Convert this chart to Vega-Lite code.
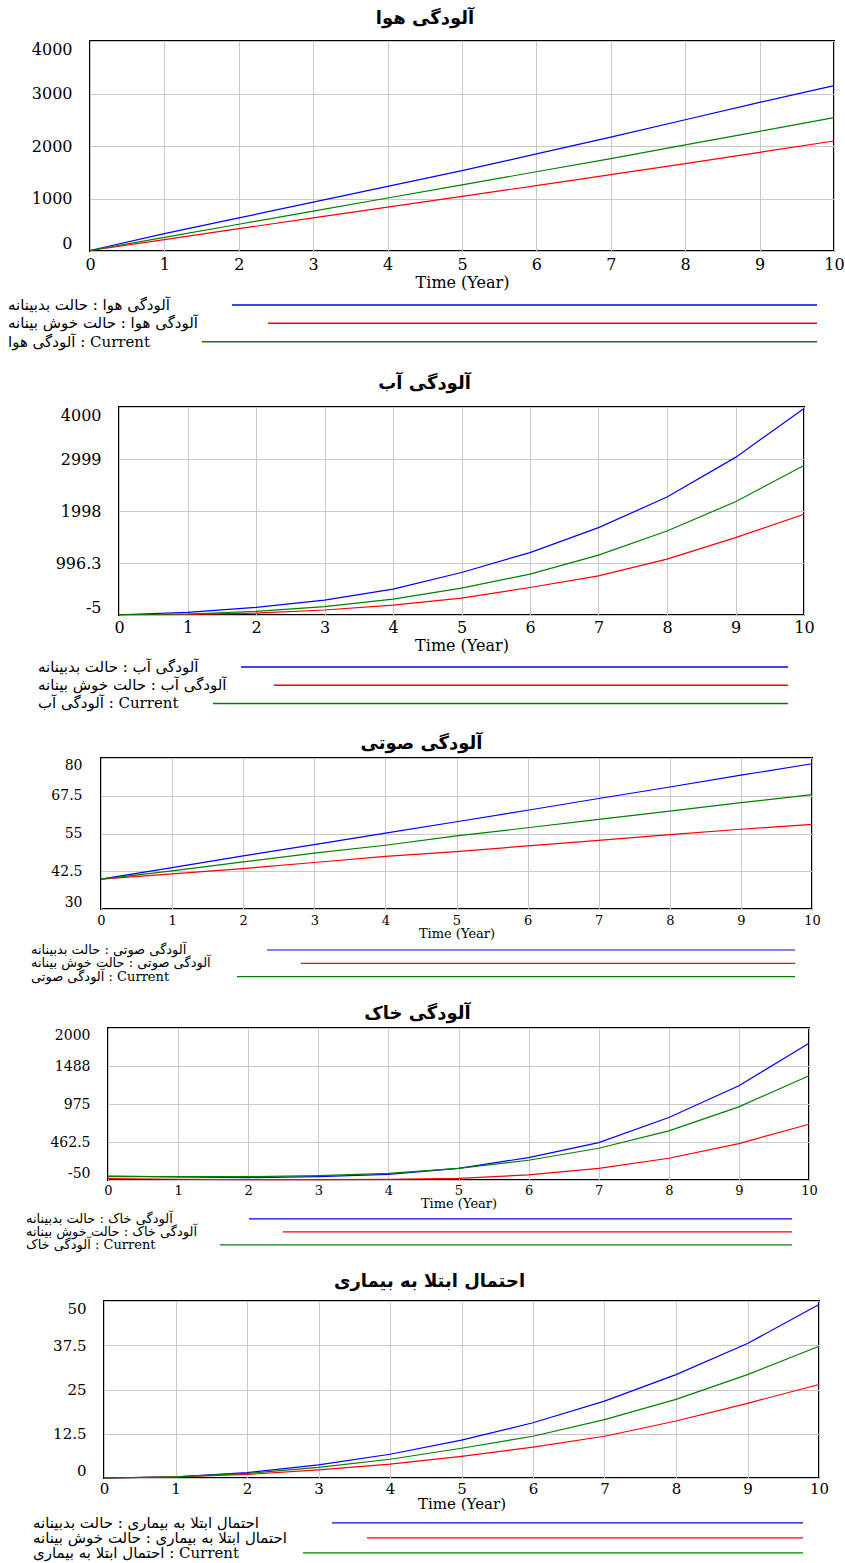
{
  "$schema": "https://vega.github.io/schema/vega-lite/v6.json",
  "padding": {"left": 0, "top": 9, "right": 0, "bottom": 0},
  "spacing": 0,
  "config": {
    "view": {"stroke": "black", "strokeWidth": 2},
    "axis": {"grid": true, "gridColor": "#c8c8c8", "gridWidth": 1, "domain": false, "ticks": false, "tickSize": 0, "labelFont": "DejaVu Serif", "titleFont": "DejaVu Serif", "labelColor": "black", "titleColor": "black", "titleFontWeight": "normal", "labelOverlap": false},
    "axisX": {"labelFlush": false},
    "axisY": {"labelFlush": true, "minExtent": 80, "maxExtent": 80},
    "title": {"color": "black", "font": "DejaVu Sans", "fontWeight": "bold", "anchor": "middle", "frame": "group", "fontSize": 18},
    "text": {"font": "DejaVu Serif, DejaVu Sans", "color": "black"}
  },
  "resolve": {"scale": {"x": "independent", "y": "independent", "color": "independent"}},
  "datasets": {
    "air": [
      {"t":0,"s":"bad","v":10},{"t":1,"s":"bad","v":330},{"t":2,"s":"bad","v":630},{"t":3,"s":"bad","v":930},{"t":4,"s":"bad","v":1230},{"t":5,"s":"bad","v":1530},{"t":6,"s":"bad","v":1850},{"t":7,"s":"bad","v":2170},{"t":8,"s":"bad","v":2500},{"t":9,"s":"bad","v":2830},{"t":10,"s":"bad","v":3150},
      {"t":0,"s":"good","v":10},{"t":1,"s":"good","v":215},{"t":2,"s":"good","v":425},{"t":3,"s":"good","v":630},{"t":4,"s":"good","v":835},{"t":5,"s":"good","v":1040},{"t":6,"s":"good","v":1245},{"t":7,"s":"good","v":1455},{"t":8,"s":"good","v":1665},{"t":9,"s":"good","v":1880},{"t":10,"s":"good","v":2095},
      {"t":0,"s":"current","v":10},{"t":1,"s":"current","v":260},{"t":2,"s":"current","v":510},{"t":3,"s":"current","v":760},{"t":4,"s":"current","v":1010},{"t":5,"s":"current","v":1260},{"t":6,"s":"current","v":1510},{"t":7,"s":"current","v":1760},{"t":8,"s":"current","v":2020},{"t":9,"s":"current","v":2280},{"t":10,"s":"current","v":2540}
    ],
    "water": [
      {"t":0,"s":"bad","v":0},{"t":1,"s":"bad","v":45},{"t":2,"s":"bad","v":141},{"t":3,"s":"bad","v":283},{"t":4,"s":"bad","v":494},{"t":5,"s":"bad","v":813},{"t":6,"s":"bad","v":1197},{"t":7,"s":"bad","v":1677},{"t":8,"s":"bad","v":2266},{"t":9,"s":"bad","v":3030},{"t":10,"s":"bad","v":3970},
      {"t":0,"s":"good","v":0},{"t":1,"s":"good","v":6},{"t":2,"s":"good","v":33},{"t":3,"s":"good","v":91},{"t":4,"s":"good","v":187},{"t":5,"s":"good","v":321},{"t":6,"s":"good","v":525},{"t":7,"s":"good","v":750},{"t":8,"s":"good","v":1070},{"t":9,"s":"good","v":1485},{"t":10,"s":"good","v":1934},
      {"t":0,"s":"current","v":0},{"t":1,"s":"current","v":14},{"t":2,"s":"current","v":64},{"t":3,"s":"current","v":155},{"t":4,"s":"current","v":302},{"t":5,"s":"current","v":513},{"t":6,"s":"current","v":782},{"t":7,"s":"current","v":1147},{"t":8,"s":"current","v":1613},{"t":9,"s":"current","v":2176},{"t":10,"s":"current","v":2875}
    ],
    "noise": [
      {"t":0,"s":"bad","v":39.9},{"t":1,"s":"bad","v":43.7},{"t":2,"s":"bad","v":47.6},{"t":3,"s":"bad","v":51.3},{"t":4,"s":"bad","v":55.1},{"t":5,"s":"bad","v":58.9},{"t":6,"s":"bad","v":62.7},{"t":7,"s":"bad","v":66.6},{"t":8,"s":"bad","v":70.4},{"t":9,"s":"bad","v":74.3},{"t":10,"s":"bad","v":78.1},
      {"t":0,"s":"good","v":39.9},{"t":1,"s":"good","v":41.6},{"t":2,"s":"good","v":43.4},{"t":3,"s":"good","v":45.4},{"t":4,"s":"good","v":47.4},{"t":5,"s":"good","v":49.0},{"t":6,"s":"good","v":50.9},{"t":7,"s":"good","v":52.7},{"t":8,"s":"good","v":54.6},{"t":9,"s":"good","v":56.4},{"t":10,"s":"good","v":58.0},
      {"t":0,"s":"current","v":39.9},{"t":1,"s":"current","v":42.6},{"t":2,"s":"current","v":45.6},{"t":3,"s":"current","v":48.5},{"t":4,"s":"current","v":51.1},{"t":5,"s":"current","v":54.2},{"t":6,"s":"current","v":56.9},{"t":7,"s":"current","v":59.7},{"t":8,"s":"current","v":62.4},{"t":9,"s":"current","v":65.2},{"t":10,"s":"current","v":67.9}
    ],
    "soil": [
      {"t":0,"s":"bad","v":4},{"t":1,"s":"bad","v":-9},{"t":2,"s":"bad","v":-18},{"t":3,"s":"bad","v":-5},{"t":4,"s":"bad","v":27},{"t":5,"s":"bad","v":108},{"t":6,"s":"bad","v":252},{"t":7,"s":"bad","v":455},{"t":8,"s":"bad","v":793},{"t":9,"s":"bad","v":1221},{"t":10,"s":"bad","v":1793},
      {"t":0,"s":"good","v":-32},{"t":1,"s":"good","v":-40},{"t":2,"s":"good","v":-45},{"t":3,"s":"good","v":-45},{"t":4,"s":"good","v":-41},{"t":5,"s":"good","v":-27},{"t":6,"s":"good","v":18},{"t":7,"s":"good","v":108},{"t":8,"s":"good","v":243},{"t":9,"s":"good","v":441},{"t":10,"s":"good","v":702},
      {"t":0,"s":"current","v":-5},{"t":1,"s":"current","v":-5},{"t":2,"s":"current","v":-5},{"t":3,"s":"current","v":9},{"t":4,"s":"current","v":40},{"t":5,"s":"current","v":108},{"t":6,"s":"current","v":216},{"t":7,"s":"current","v":378},{"t":8,"s":"current","v":612},{"t":9,"s":"current","v":937},{"t":10,"s":"current","v":1356}
    ],
    "disease": [
      {"t":0,"s":"bad","v":0},{"t":1,"s":"bad","v":0.3},{"t":2,"s":"bad","v":1.5},{"t":3,"s":"bad","v":3.7},{"t":4,"s":"bad","v":6.7},{"t":5,"s":"bad","v":10.7},{"t":6,"s":"bad","v":15.6},{"t":7,"s":"bad","v":21.7},{"t":8,"s":"bad","v":29.2},{"t":9,"s":"bad","v":38.0},{"t":10,"s":"bad","v":49.0},
      {"t":0,"s":"good","v":0},{"t":1,"s":"good","v":0.3},{"t":2,"s":"good","v":1.0},{"t":3,"s":"good","v":2.3},{"t":4,"s":"good","v":3.9},{"t":5,"s":"good","v":6.1},{"t":6,"s":"good","v":8.7},{"t":7,"s":"good","v":11.8},{"t":8,"s":"good","v":16.1},{"t":9,"s":"good","v":21.1},{"t":10,"s":"good","v":26.4},
      {"t":0,"s":"current","v":0},{"t":1,"s":"current","v":0.3},{"t":2,"s":"current","v":1.3},{"t":3,"s":"current","v":3.0},{"t":4,"s":"current","v":5.3},{"t":5,"s":"current","v":8.4},{"t":6,"s":"current","v":11.8},{"t":7,"s":"current","v":16.5},{"t":8,"s":"current","v":22.2},{"t":9,"s":"current","v":29.2},{"t":10,"s":"current","v":37.2}
    ],
    "leg1": [
      {"s":"bad","row":1,"label":"آلودگی هوا : حالت بدبینانه"},
      {"s":"good","row":2,"label":"آلودگی هوا : حالت خوش بینانه"},
      {"s":"current","row":3,"label":"آلودگی هوا : Current"}
    ],
    "leg2": [
      {"s":"bad","row":1,"label":"آلودگی آب : حالت بدبینانه"},
      {"s":"good","row":2,"label":"آلودگی آب : حالت خوش بینانه"},
      {"s":"current","row":3,"label":"آلودگی آب : Current"}
    ],
    "leg3": [
      {"s":"bad","row":1,"label":"آلودگی صوتی : حالت بدبینانه"},
      {"s":"good","row":2,"label":"آلودگی صوتی : حالت خوش بینانه"},
      {"s":"current","row":3,"label":"آلودگی صوتی : Current"}
    ],
    "leg4": [
      {"s":"bad","row":1,"label":"آلودگی خاک : حالت بدبینانه"},
      {"s":"good","row":2,"label":"آلودگی خاک : حالت خوش بینانه"},
      {"s":"current","row":3,"label":"آلودگی خاک : Current"}
    ],
    "leg5": [
      {"s":"bad","row":1,"label":"احتمال ابتلا به بیماری : حالت بدبینانه"},
      {"s":"good","row":2,"label":"احتمال ابتلا به بیماری : حالت خوش بینانه"},
      {"s":"current","row":3,"label":"احتمال ابتلا به بیماری : Current"}
    ]
  },
  "vconcat": [
    {
      "hconcat": [
        {"width": 9, "height": 10, "view": {"stroke": null}, "data": {"values": []}, "mark": "rule", "encoding": {}},
        {
          "width": 744, "height": 210,
          "title": {"text": "آلودگی هوا", "offset": 13, "dx": -37},
          "data": {"name": "air"},
          "mark": {"type": "line", "strokeWidth": 1.2},
          "encoding": {
            "x": {"field": "t", "type": "quantitative", "scale": {"domain": [0, 10], "nice": false}, "axis": {"values": [0,1,2,3,4,5,6,7,8,9,10], "title": "Time (Year)", "labelFontSize": 16, "titleFontSize": 16, "labelPadding": 5, "titlePadding": 2}},
            "y": {"field": "v", "type": "quantitative", "scale": {"domain": [0, 4000], "nice": false, "zero": false}, "axis": {"values": [0, 1000, 2000, 3000, 4000], "format": "d", "title": null, "labelFontSize": 16, "labelPadding": 18}},
            "color": {"field": "s", "type": "nominal", "scale": {"domain": ["bad", "good", "current"], "range": ["#0000ff", "#ff0000", "#008000"]}, "legend": null}
          }
        }
      ],
      "spacing": 0,
      "resolve": {"scale": {"x": "independent", "y": "independent"}}
    },
    {
      "width": 845, "height": 83,
      "view": {"stroke": null},
      "data": {"name": "leg1"},
      "encoding": {"y": {"field": "row", "type": "quantitative", "scale": {"domain": [4.760, 0.237], "nice": false, "zero": false}, "axis": null}},
      "layer": [
        {"mark": {"type": "text", "align": "left", "baseline": "middle", "fontSize": 15}, "encoding": {"x": {"datum": 8, "scale": {"domain": [0, 845], "nice": false}, "axis": null}, "text": {"field": "label"}}},
        {"transform": [{"filter": "datum.s == 'bad'"}], "mark": {"type": "rule", "strokeWidth": 1.5}, "encoding": {"x": {"datum": 232}, "x2": {"datum": 817}, "color": {"field": "s", "type": "nominal", "scale": {"domain": ["bad", "good", "current"], "range": ["#0000ff", "#ff0000", "#008000"]}, "legend": null}}},
        {"transform": [{"filter": "datum.s == 'good'"}], "mark": {"type": "rule", "strokeWidth": 1.5}, "encoding": {"x": {"datum": 268}, "x2": {"datum": 817}, "color": {"field": "s", "type": "nominal", "legend": null}}},
        {"transform": [{"filter": "datum.s == 'current'"}], "mark": {"type": "rule", "strokeWidth": 1.5}, "encoding": {"x": {"datum": 202}, "x2": {"datum": 817}, "color": {"field": "s", "type": "nominal", "legend": null}}}
      ]
    },
    {
      "hconcat": [
        {"width": 38, "height": 10, "view": {"stroke": null}, "data": {"values": []}, "mark": "rule", "encoding": {}},
        {
          "width": 685, "height": 208,
          "title": {"text": "آلودگی آب", "offset": 13, "dx": -37},
          "data": {"name": "water"},
          "mark": {"type": "line", "strokeWidth": 1.2},
          "encoding": {
            "x": {"field": "t", "type": "quantitative", "scale": {"domain": [0, 10], "nice": false}, "axis": {"values": [0,1,2,3,4,5,6,7,8,9,10], "title": "Time (Year)", "labelFontSize": 16, "titleFontSize": 16, "labelPadding": 4, "titlePadding": 2}},
            "y": {"field": "v", "type": "quantitative", "scale": {"domain": [-5, 4000], "nice": false, "zero": false}, "axis": {"values": [-5, 996.25, 1997.5, 2998.75, 4000], "labelExpr": "datum.value == -5 ? '-5' : datum.value == 996.25 ? '996.3' : datum.value == 1997.5 ? '1998' : datum.value == 2998.75 ? '2999' : '4000'", "title": null, "labelFontSize": 16, "labelPadding": 18}},
            "color": {"field": "s", "type": "nominal", "scale": {"domain": ["bad", "good", "current"], "range": ["#0000ff", "#ff0000", "#008000"]}, "legend": null}
          }
        }
      ],
      "spacing": 0,
      "resolve": {"scale": {"x": "independent", "y": "independent"}}
    },
    {
      "width": 845, "height": 80,
      "view": {"stroke": null},
      "data": {"name": "leg2"},
      "encoding": {"y": {"field": "row", "type": "quantitative", "scale": {"domain": [4.667, 0.295], "nice": false, "zero": false}, "axis": null}},
      "layer": [
        {"mark": {"type": "text", "align": "left", "baseline": "middle", "fontSize": 15}, "encoding": {"x": {"datum": 38, "scale": {"domain": [0, 845], "nice": false}, "axis": null}, "text": {"field": "label"}}},
        {"transform": [{"filter": "datum.s == 'bad'"}], "mark": {"type": "rule", "strokeWidth": 1.5}, "encoding": {"x": {"datum": 241}, "x2": {"datum": 788}, "color": {"field": "s", "type": "nominal", "scale": {"domain": ["bad", "good", "current"], "range": ["#0000ff", "#ff0000", "#008000"]}, "legend": null}}},
        {"transform": [{"filter": "datum.s == 'good'"}], "mark": {"type": "rule", "strokeWidth": 1.5}, "encoding": {"x": {"datum": 274}, "x2": {"datum": 788}, "color": {"field": "s", "type": "nominal", "legend": null}}},
        {"transform": [{"filter": "datum.s == 'current'"}], "mark": {"type": "rule", "strokeWidth": 1.5}, "encoding": {"x": {"datum": 213}, "x2": {"datum": 788}, "color": {"field": "s", "type": "nominal", "legend": null}}}
      ]
    },
    {
      "hconcat": [
        {"width": 20, "height": 10, "view": {"stroke": null}, "data": {"values": []}, "mark": "rule", "encoding": {}},
        {
          "width": 711, "height": 151,
          "title": {"text": "آلودگی صوتی", "offset": 5, "dx": -35},
          "data": {"name": "noise"},
          "mark": {"type": "line", "strokeWidth": 1.2},
          "encoding": {
            "x": {"field": "t", "type": "quantitative", "scale": {"domain": [0, 10], "nice": false}, "axis": {"values": [0,1,2,3,4,5,6,7,8,9,10], "title": "Time (Year)", "labelFontSize": 13, "titleFontSize": 13, "labelPadding": 5, "titlePadding": 0}},
            "y": {"field": "v", "type": "quantitative", "scale": {"domain": [30, 80], "nice": false, "zero": false}, "axis": {"values": [30, 42.5, 55, 67.5, 80], "format": ".1~f", "title": null, "labelFontSize": 14, "labelPadding": 19}},
            "color": {"field": "s", "type": "nominal", "scale": {"domain": ["bad", "good", "current"], "range": ["#0000ff", "#ff0000", "#008000"]}, "legend": null}
          }
        }
      ],
      "spacing": 0,
      "resolve": {"scale": {"x": "independent", "y": "independent"}}
    },
    {
      "width": 845, "height": 62.5,
      "view": {"stroke": null},
      "data": {"name": "leg3"},
      "encoding": {"y": {"field": "row", "type": "quantitative", "scale": {"domain": [5.008, 0.326], "nice": false, "zero": false}, "axis": null}},
      "layer": [
        {"mark": {"type": "text", "align": "left", "baseline": "middle", "fontSize": 13}, "encoding": {"x": {"datum": 31, "scale": {"domain": [0, 845], "nice": false}, "axis": null}, "text": {"field": "label"}}},
        {"transform": [{"filter": "datum.s == 'bad'"}], "mark": {"type": "rule", "strokeWidth": 1.2}, "encoding": {"x": {"datum": 267}, "x2": {"datum": 795}, "color": {"field": "s", "type": "nominal", "scale": {"domain": ["bad", "good", "current"], "range": ["#0000ff", "#ff0000", "#008000"]}, "legend": null}}},
        {"transform": [{"filter": "datum.s == 'good'"}], "mark": {"type": "rule", "strokeWidth": 1.2}, "encoding": {"x": {"datum": 301}, "x2": {"datum": 795}, "color": {"field": "s", "type": "nominal", "legend": null}}},
        {"transform": [{"filter": "datum.s == 'current'"}], "mark": {"type": "rule", "strokeWidth": 1.2}, "encoding": {"x": {"datum": 237}, "x2": {"datum": 795}, "color": {"field": "s", "type": "nominal", "legend": null}}}
      ]
    },
    {
      "hconcat": [
        {"width": 27, "height": 10, "view": {"stroke": null}, "data": {"values": []}, "mark": "rule", "encoding": {}},
        {
          "width": 701, "height": 152,
          "title": {"text": "آلودگی خاک", "offset": 5, "dx": -41},
          "data": {"name": "soil"},
          "mark": {"type": "line", "strokeWidth": 1.2},
          "encoding": {
            "x": {"field": "t", "type": "quantitative", "scale": {"domain": [0, 10], "nice": false}, "axis": {"values": [0,1,2,3,4,5,6,7,8,9,10], "title": "Time (Year)", "labelFontSize": 13, "titleFontSize": 13, "labelPadding": 4, "titlePadding": 0}},
            "y": {"field": "v", "type": "quantitative", "scale": {"domain": [-50, 2000], "nice": false, "zero": false}, "axis": {"values": [-50, 462.5, 975, 1487.5, 2000], "labelExpr": "datum.value == -50 ? '-50' : datum.value == 462.5 ? '462.5' : datum.value == 975 ? '975' : datum.value == 1487.5 ? '1488' : '2000'", "title": null, "labelFontSize": 14, "labelPadding": 18}},
            "color": {"field": "s", "type": "nominal", "scale": {"domain": ["bad", "good", "current"], "range": ["#0000ff", "#ff0000", "#008000"]}, "legend": null}
          }
        }
      ],
      "spacing": 0,
      "resolve": {"scale": {"x": "independent", "y": "independent"}}
    },
    {
      "width": 845, "height": 59.5,
      "view": {"stroke": null},
      "data": {"name": "leg4"},
      "encoding": {"y": {"field": "row", "type": "quantitative", "scale": {"domain": [4.977, 0.400], "nice": false, "zero": false}, "axis": null}},
      "layer": [
        {"mark": {"type": "text", "align": "left", "baseline": "middle", "fontSize": 13}, "encoding": {"x": {"datum": 26, "scale": {"domain": [0, 845], "nice": false}, "axis": null}, "text": {"field": "label"}}},
        {"transform": [{"filter": "datum.s == 'bad'"}], "mark": {"type": "rule", "strokeWidth": 1.2}, "encoding": {"x": {"datum": 249}, "x2": {"datum": 792}, "color": {"field": "s", "type": "nominal", "scale": {"domain": ["bad", "good", "current"], "range": ["#0000ff", "#ff0000", "#008000"]}, "legend": null}}},
        {"transform": [{"filter": "datum.s == 'good'"}], "mark": {"type": "rule", "strokeWidth": 1.2}, "encoding": {"x": {"datum": 283}, "x2": {"datum": 792}, "color": {"field": "s", "type": "nominal", "legend": null}}},
        {"transform": [{"filter": "datum.s == 'current'"}], "mark": {"type": "rule", "strokeWidth": 1.2}, "encoding": {"x": {"datum": 220}, "x2": {"datum": 792}, "color": {"field": "s", "type": "nominal", "legend": null}}}
      ]
    },
    {
      "hconcat": [
        {"width": 23, "height": 10, "view": {"stroke": null}, "data": {"values": []}, "mark": "rule", "encoding": {}},
        {
          "width": 715, "height": 177,
          "title": {"text": "احتمال ابتلا به بیماری", "offset": 10.5, "dx": -32},
          "data": {"name": "disease"},
          "mark": {"type": "line", "strokeWidth": 1.2},
          "encoding": {
            "x": {"field": "t", "type": "quantitative", "scale": {"domain": [0, 10], "nice": false}, "axis": {"values": [0,1,2,3,4,5,6,7,8,9,10], "title": "Time (Year)", "labelFontSize": 15, "titleFontSize": 15, "labelPadding": 3, "titlePadding": 0}},
            "y": {"field": "v", "type": "quantitative", "scale": {"domain": [0, 50], "nice": false, "zero": false}, "axis": {"values": [0, 12.5, 25, 37.5, 50], "format": ".1~f", "title": null, "labelFontSize": 15, "labelPadding": 18}},
            "color": {"field": "s", "type": "nominal", "scale": {"domain": ["bad", "good", "current"], "range": ["#0000ff", "#ff0000", "#008000"]}, "legend": null}
          }
        }
      ],
      "spacing": 0,
      "resolve": {"scale": {"x": "independent", "y": "independent"}}
    },
    {
      "width": 845, "height": 52.5,
      "view": {"stroke": null},
      "data": {"name": "leg5"},
      "encoding": {"y": {"field": "row", "type": "quantitative", "scale": {"domain": [3.780, 0.280], "nice": false, "zero": false}, "axis": null}},
      "layer": [
        {"mark": {"type": "text", "align": "left", "baseline": "middle", "fontSize": 15}, "encoding": {"x": {"datum": 33, "scale": {"domain": [0, 845], "nice": false}, "axis": null}, "text": {"field": "label"}}},
        {"transform": [{"filter": "datum.s == 'bad'"}], "mark": {"type": "rule", "strokeWidth": 1.2}, "encoding": {"x": {"datum": 332}, "x2": {"datum": 803}, "color": {"field": "s", "type": "nominal", "scale": {"domain": ["bad", "good", "current"], "range": ["#0000ff", "#ff0000", "#008000"]}, "legend": null}}},
        {"transform": [{"filter": "datum.s == 'good'"}], "mark": {"type": "rule", "strokeWidth": 1.2}, "encoding": {"x": {"datum": 367}, "x2": {"datum": 803}, "color": {"field": "s", "type": "nominal", "legend": null}}},
        {"transform": [{"filter": "datum.s == 'current'"}], "mark": {"type": "rule", "strokeWidth": 1.2}, "encoding": {"x": {"datum": 303}, "x2": {"datum": 803}, "color": {"field": "s", "type": "nominal", "legend": null}}}
      ]
    }
  ]
}
